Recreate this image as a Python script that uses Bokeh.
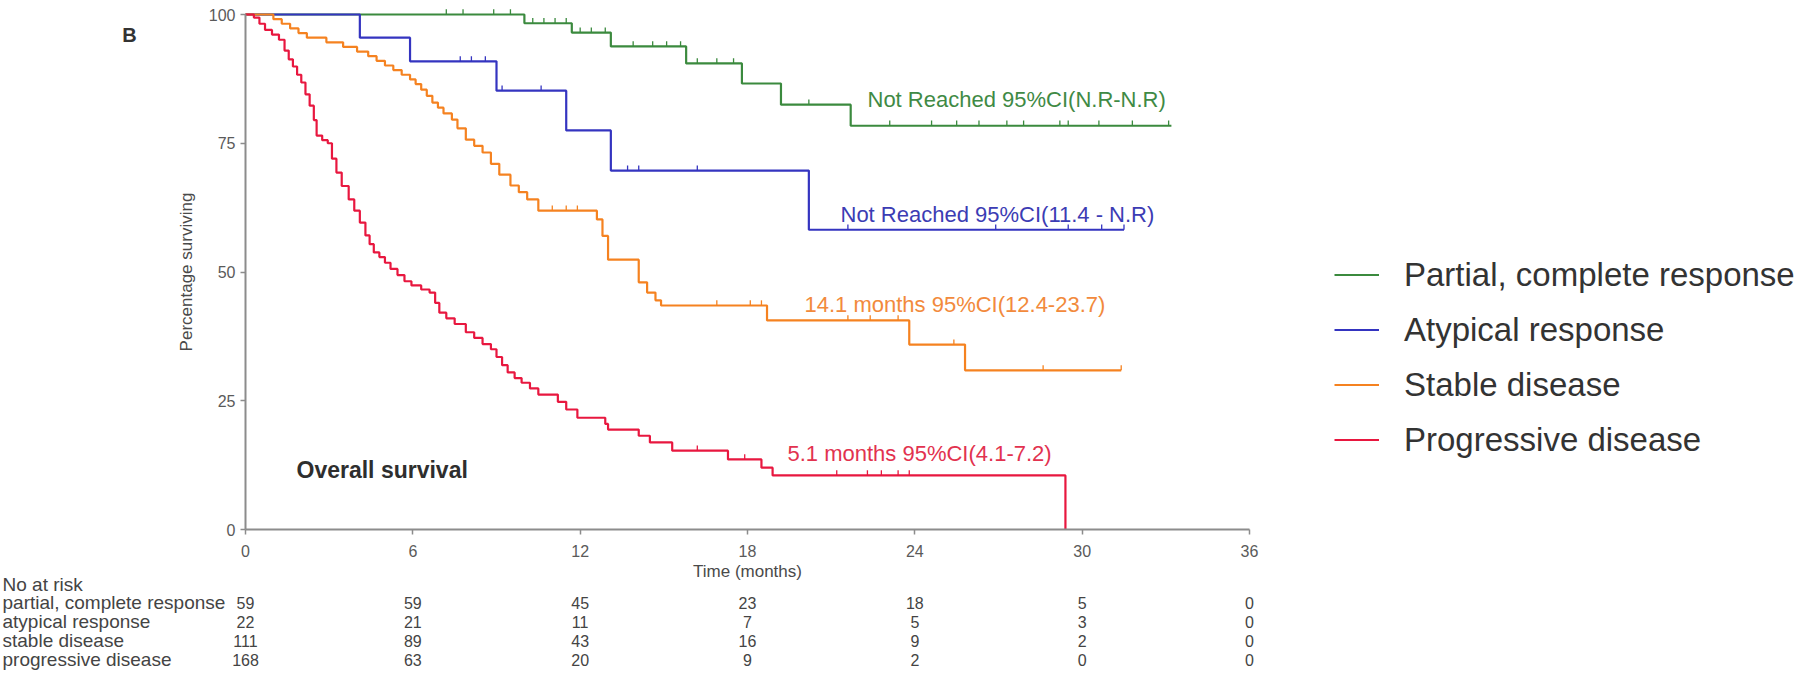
from bokeh.plotting import figure
from bokeh.models import Range1d, FixedTicker, Label, LabelSet, ColumnDataSource, Legend, LegendItem
from bokeh.core.properties import value
from bokeh.embed import file_html
from bokeh.resources import INLINE

# ---------------- data ----------------
months_ticks = [0, 6, 12, 18, 24, 30, 36]
pct_ticks = [0, 25, 50, 75, 100]

pcr_t = [0, 10.0, 11.7, 13.1, 15.8, 17.8, 19.2, 21.7, 33.2]
pcr_s = [100, 98.3, 96.5, 93.8, 90.5, 86.6, 82.5, 78.4, 78.4]
pcr_cens_t = [7.2, 7.8, 8.9, 9.5, 10.3, 10.7, 11.1, 11.5, 12.0, 12.4, 12.9, 13.9, 14.6, 15.1, 15.6,
              16.2, 16.9, 17.5, 20.2, 23.1, 24.6, 25.5, 26.3, 27.3, 27.9, 29.2, 29.5, 30.6, 31.8, 33.1]
pcr_cens_s = [100, 100, 100, 100, 98.3, 98.3, 98.3, 98.3, 96.5, 96.5, 96.5, 93.8, 93.8, 93.8, 93.8,
              90.5, 90.5, 90.5, 82.5, 78.4, 78.4, 78.4, 78.4, 78.4, 78.4, 78.4, 78.4, 78.4, 78.4, 78.4]

atyp_t = [0, 4.1, 5.9, 9.0, 11.5, 13.1, 20.2, 31.5]
atyp_s = [100, 95.5, 90.9, 85.2, 77.5, 69.7, 58.2, 58.2]
atyp_cens_t = [7.7, 8.1, 8.6, 9.2, 10.6, 13.7, 14.1, 16.2, 21.6, 26.9, 29.5, 30.7, 31.5]
atyp_cens_s = [90.9, 90.9, 90.9, 85.2, 85.2, 69.7, 69.7, 69.7, 58.2, 58.2, 58.2, 58.2, 58.2]

sd_t = [0, 1.0, 1.3, 1.6, 1.9, 2.2, 2.9, 3.5, 4.0, 4.4, 4.7, 5.0, 5.3, 5.6, 5.9, 6.1, 6.3, 6.5, 6.7,
        6.9, 7.1, 7.4, 7.6, 7.9, 8.2, 8.5, 8.8, 9.1, 9.5, 9.8, 10.1, 10.5, 12.6, 12.8, 13.0, 14.1,
        14.4, 14.7, 14.9, 18.7, 23.8, 25.8, 31.4]
sd_s = [100, 99.1, 98.2, 97.3, 96.4, 95.5, 94.6, 93.7, 92.8, 91.9, 91.0, 90.1, 89.2, 88.3, 87.4, 86.5,
        85.4, 84.2, 82.9, 81.9, 80.8, 79.6, 77.9, 75.7, 74.5, 73.2, 71.0, 68.9, 66.8, 65.5, 64.1, 61.9,
        60.2, 57.0, 52.4, 48.0, 46.0, 44.5, 43.5, 40.6, 35.9, 30.9, 30.9]
sd_cens_t = [11.0, 11.5, 11.9, 16.9, 18.1, 18.5, 21.6, 22.4, 23.4, 25.4, 28.6, 31.4]
sd_cens_s = [61.9, 61.9, 61.9, 43.5, 43.5, 43.5, 40.6, 40.6, 40.6, 35.9, 30.9, 30.9]

pd_t = [0, 0.3, 0.5, 0.7, 0.95, 1.2, 1.4, 1.55, 1.7, 1.85, 2.0, 2.15, 2.3, 2.45, 2.55, 2.75, 2.95,
        3.1, 3.26, 3.45, 3.7, 3.9, 4.1, 4.3, 4.45, 4.6, 4.8, 5.0, 5.2, 5.45, 5.7, 5.95, 6.3, 6.6, 6.8,
        6.95, 7.2, 7.5, 7.9, 8.2, 8.5, 8.8, 9.0, 9.2, 9.4, 9.65, 9.9, 10.2, 10.5, 11.2, 11.5, 11.9,
        12.9, 13.0, 14.1, 14.5, 15.3, 17.3, 18.5, 18.9, 29.4]
pd_s = [100, 99.4, 98.2, 97.0, 96.1, 95.1, 93.0, 91.3, 89.9, 88.3, 86.8, 84.5, 82.3, 79.5, 76.5, 75.6,
        75.0, 72.0, 69.3, 66.7, 64.1, 61.9, 59.6, 57.1, 55.4, 53.8, 52.9, 51.8, 50.6, 49.4, 48.2, 47.4,
        46.6, 46.0, 44.0, 42.1, 41.0, 39.9, 38.3, 37.2, 36.0, 35.0, 33.5, 31.9, 30.5, 29.4, 28.5, 27.4,
        26.2, 24.8, 23.3, 21.7, 20.5, 19.4, 18.2, 16.9, 15.3, 13.6, 12.0, 10.5, 0]
pd_cens_t = [16.2, 17.9, 21.2, 22.3, 22.8, 23.4, 23.8]
pd_cens_s = [15.3, 13.6, 10.5, 10.5, 10.5, 10.5, 10.5]

group_names = ["Partial, complete response", "Atypical response", "Stable disease", "Progressive disease"]
risk_labels = ["partial, complete response", "atypical response", "stable disease", "progressive disease"]
risk_pcr = [59, 59, 45, 23, 18, 5, 0]
risk_atyp = [22, 21, 11, 7, 5, 3, 0]
risk_sd = [111, 89, 43, 16, 9, 2, 0]
risk_pd = [168, 63, 20, 9, 2, 0, 0]

annot_texts = ["Not Reached 95%CI(N.R-N.R)", "Not Reached 95%CI(11.4 - N.R)",
               "14.1 months 95%CI(12.4-23.7)", "5.1 months 95%CI(4.1-7.2)"]

# ---------------- styling / layout ----------------
FONT = "Liberation Sans"
COLORS = ["#3b8a3e", "#3434c0", "#f58220", "#e8173f"]
TEXT_COLORS = ["#3f8a45", "#3c3cb4", "#f28a3c", "#e2324f"]

W, H = 1803, 670
PAGE = 8
X0_PAGE, Y0_PAGE = 253, 537        # page position of (0 months, 0 %)
PXX = 1004 / 36.0                  # px per month
PXY = 515 / 100.0                  # px per percent

def dx(page_x):
    return (page_x - X0_PAGE) / PXX

def dy(page_y):
    return (Y0_PAGE - page_y) / PXY

p = figure(width=W, height=H,
           min_border_left=0, min_border_top=0, min_border_right=0, min_border_bottom=0,
           x_range=Range1d(dx(PAGE), dx(PAGE + W)), y_range=Range1d(dy(PAGE + H), dy(PAGE)),
           output_backend="svg", toolbar_location=None)
p.xgrid.visible = False
p.ygrid.visible = False
p.outline_line_color = None
p.background_fill_color = "white"

for ax in (p.xaxis[0], p.yaxis[0]):
    ax.fixed_location = 0
    ax.axis_line_color = "#8c8c8c"
    ax.axis_line_width = 2
    ax.major_tick_line_color = "#8c8c8c"
    ax.major_tick_line_width = 1.5
    ax.major_tick_out = 5
    ax.major_tick_in = 0
    ax.minor_tick_line_color = None
    ax.major_label_text_font = FONT
    ax.major_label_text_font_size = "16px"
    ax.major_label_text_color = "#5a5a5a"
    ax.axis_label_text_font = FONT
    ax.axis_label_text_font_size = "17px"
    ax.axis_label_text_font_style = "normal"
    ax.axis_label_text_color = "#4a4a4a"

p.xaxis.ticker = FixedTicker(ticks=months_ticks)
p.yaxis.ticker = FixedTicker(ticks=pct_ticks)
p.xaxis.bounds = (0, 36)
p.yaxis.bounds = (0, 100)
p.xaxis.major_label_standoff = 10
p.yaxis.major_label_standoff = 5
p.xaxis.axis_label = "Time (months)"
p.xaxis.axis_label_standoff = 2
p.yaxis.axis_label = "Percentage surviving"
p.yaxis.axis_label_standoff = 10

series = [(pcr_t, pcr_s, pcr_cens_t, pcr_cens_s),
          (atyp_t, atyp_s, atyp_cens_t, atyp_cens_s),
          (sd_t, sd_s, sd_cens_t, sd_cens_s),
          (pd_t, pd_s, pd_cens_t, pd_cens_s)]

renderers = []
for (t, s, ct, cs), col in zip(series, COLORS):
    r = p.step(x=t, y=s, mode="after", line_color=col, line_width=2.2)
    renderers.append(r)
    p.segment(x0=ct, y0=cs, x1=ct, y1=[v + 1.0 for v in cs], line_color=col, line_width=1.3)

legend = Legend(items=[LegendItem(label=n, renderers=[r]) for n, r in zip(group_names, renderers)],
                location=(1342 - PAGE, PAGE + H - 475),
                glyph_width=45, glyph_height=55, label_height=55, label_standoff=25,
                spacing=0, padding=0, margin=0,
                label_text_font=FONT, label_text_font_size="33px", label_text_color="#333333",
                border_line_color=None, background_fill_alpha=0)
p.add_layout(legend)

# curve annotations
annot_pos = [(875, 107), (848, 222), (812, 312), (795, 461)]
for txt, (ax_, ay_), col in zip(annot_texts, annot_pos, TEXT_COLORS):
    p.add_layout(Label(x=dx(ax_), y=dy(ay_), text=txt, text_font=FONT, text_font_size="22px",
                       text_color=col, text_baseline="middle", text_align="left"))

p.add_layout(Label(x=dx(304), y=dy(477), text="Overall survival", text_font=FONT,
                   text_font_size="23px", text_font_style="bold", text_color="#2e2e2e",
                   text_baseline="middle"))
p.add_layout(Label(x=dx(137), y=dy(42), text="B", text_font=FONT, text_font_size="20px",
                   text_font_style="bold", text_color="#333333", text_baseline="middle",
                   text_align="center"))

# number-at-risk table
row_page_y = [610, 629, 648, 667]
p.add_layout(Label(x=dx(10), y=dy(592), text="No at risk", text_font=FONT, text_font_size="19px",
                   text_color="#444444", text_baseline="middle"))
lab_src = ColumnDataSource(dict(x=[dx(10)] * 4, y=[dy(v) for v in row_page_y], text=risk_labels))
p.add_layout(LabelSet(x="x", y="y", text="text", source=lab_src, text_font=value(FONT),
                      text_font_size="19px", text_color="#444444", text_baseline="middle"))
xs, ys, ts = [], [], []
for row, yy in zip([risk_pcr, risk_atyp, risk_sd, risk_pd], row_page_y):
    for m, n in zip(months_ticks, row):
        xs.append(m)
        ys.append(dy(yy))
        ts.append(str(n))
num_src = ColumnDataSource(dict(x=xs, y=ys, text=ts))
p.add_layout(LabelSet(x="x", y="y", text="text", source=num_src, text_font=value(FONT),
                      text_font_size="16px", text_color="#444444", text_baseline="middle",
                      text_align="center"))

open("out.html", "w").write(file_html(p, INLINE))
